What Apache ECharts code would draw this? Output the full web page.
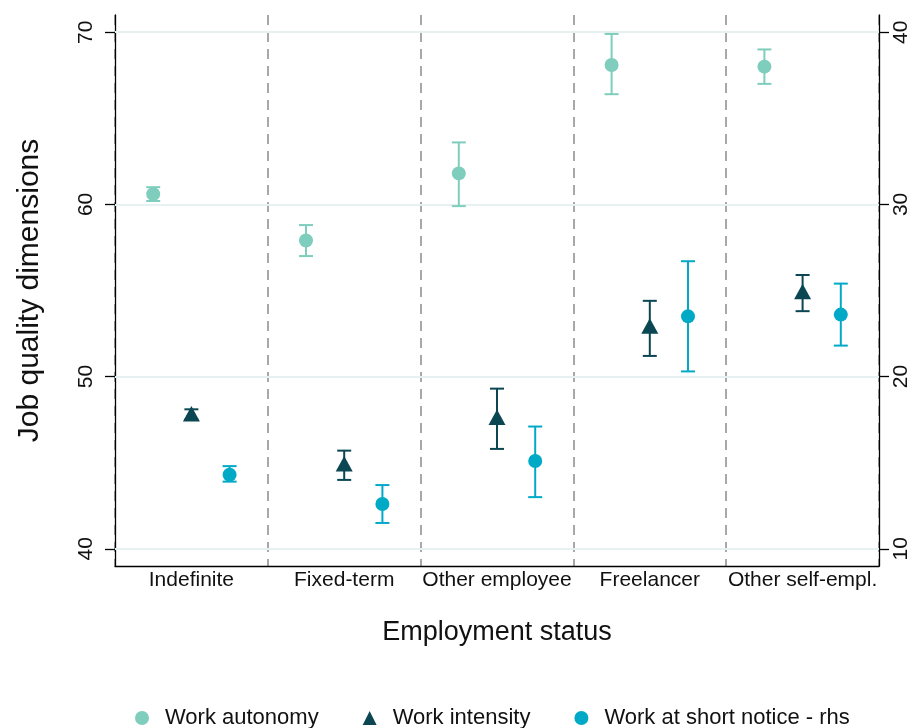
<!DOCTYPE html>
<html>
<head>
<meta charset="utf-8">
<script src="https://cdn.jsdelivr.net/npm/echarts@6/dist/echarts.min.js"></script>
<style>
html,body{margin:0;padding:0;background:#fff;}
#chart{width:913px;height:728px;}
</style>
</head>
<body>
<div id="chart"></div>
<script>
const categories = ['Indefinite', 'Fixed-term', 'Other employee', 'Freelancer', 'Other self-empl.'];
const seriesNames = ['Work autonomy', 'Work intensity', 'Work at short notice - rhs'];

const autonomy   = [60.6, 57.9, 61.8, 68.1, 68.0];
const autonomyLo = [60.2, 57.0, 59.9, 66.4, 67.0];
const autonomyHi = [61.0, 58.8, 63.6, 69.9, 69.0];

const intensity   = [47.8, 44.9, 47.6, 52.9, 54.9];
const intensityLo = [47.5, 44.0, 45.8, 51.2, 53.8];
const intensityHi = [48.1, 45.7, 49.3, 54.4, 55.9];

const notice   = [14.3, 12.6, 15.1, 23.5, 23.6];
const noticeLo = [13.9, 11.5, 13.0, 20.3, 21.8];
const noticeHi = [14.8, 13.7, 17.1, 26.7, 25.4];

const leftTicks  = [40, 50, 60, 70];
const rightTicks = [10, 20, 30, 40];

const C_AUT = '#7ecdbd';
const C_INT = '#0b4653';
const C_NOT = '#00aac7';
const FONT = 'Liberation Sans, Arial, sans-serif';

function rows(v, lo, hi) {
  return v.map((x, i) => [i, x, lo[i], hi[i]]);
}

function makeRender(off, shape, color) {
  return function (params, api) {
    const i = api.value(0);
    const c = api.coord([i, api.value(1)]);
    const l = api.coord([i, api.value(2)]);
    const h = api.coord([i, api.value(3)]);
    const bw = api.coord([1, api.value(1)])[0] - api.coord([0, api.value(1)])[0];
    const x = c[0] + bw * off;
    const cap = 7;
    const st = { stroke: color, lineWidth: 2 };
    const children = [
      { type: 'line', shape: { x1: x, y1: l[1], x2: x, y2: h[1] }, style: st },
      { type: 'line', shape: { x1: x - cap, y1: l[1], x2: x + cap, y2: l[1] }, style: st },
      { type: 'line', shape: { x1: x - cap, y1: h[1], x2: x + cap, y2: h[1] }, style: st }
    ];
    if (shape === 'triangle') {
      children.push({ type: 'polygon', shape: { points: [[x, c[1] - 8.5], [x + 8.5, c[1] + 7], [x - 8.5, c[1] + 7]] }, style: { fill: color } });
    } else {
      children.push({ type: 'circle', shape: { cx: x, cy: c[1], r: 7 }, style: { fill: color } });
    }
    return { type: 'group', children: children };
  };
}

const chart = echarts.init(document.getElementById('chart'), null, { renderer: 'canvas' });

const option = {
  animation: false,
  backgroundColor: '#ffffff',
  textStyle: { fontFamily: FONT },
  grid: { left: 115, right: 34, top: 15, bottom: 162, containLabel: false },
  legend: {
    left: 130,
    top: 702,
    itemWidth: 14,
    itemHeight: 14,
    itemGap: 44,
    textStyle: { fontFamily: FONT, fontSize: 22, color: '#111', padding: [0, 0, 0, 11] },
    data: [
      { name: seriesNames[0], icon: 'circle' },
      { name: seriesNames[1], icon: 'triangle' },
      { name: seriesNames[2], icon: 'circle' }
    ]
  },
  xAxis: {
    type: 'category',
    data: categories,
    boundaryGap: true,
    name: 'Employment status',
    nameLocation: 'middle',
    nameGap: 53,
    nameTextStyle: { fontFamily: FONT, fontSize: 27, color: '#111' },
    axisLine: { lineStyle: { color: '#000', width: 1.3 } },
    axisTick: { show: false },
    axisLabel: { fontFamily: FONT, fontSize: 21, color: '#111', margin: 4, interval: 0 },
    splitLine: { show: true, interval: 0, lineStyle: { color: '#8c8c8c', width: 1.5, type: [10, 7] } }
  },
  yAxis: [
    {
      type: 'value',
      min: 39, max: 71,
      position: 'left',
      name: 'Job quality dimensions',
      nameLocation: 'middle',
      nameGap: 70,
      nameTextStyle: { fontFamily: FONT, fontSize: 30, color: '#111' },
      axisLine: { show: true, lineStyle: { color: '#000', width: 1.3 } },
      axisTick: { show: true, length: 10, customValues: leftTicks, lineStyle: { color: '#000', width: 1.3 } },
      axisLabel: { customValues: leftTicks, rotate: 90, margin: 18, fontFamily: FONT, fontSize: 21, color: '#111' },
      splitLine: { show: false }
    },
    {
      type: 'value',
      min: 9, max: 41,
      position: 'right',
      axisLine: { show: true, lineStyle: { color: '#000', width: 1.3 } },
      axisTick: { show: true, length: 10, customValues: rightTicks, lineStyle: { color: '#000', width: 1.3 } },
      axisLabel: { customValues: rightTicks, rotate: 90, margin: 12, fontFamily: FONT, fontSize: 21, color: '#111' },
      splitLine: { show: false }
    }
  ],
  series: [
    {
      name: 'grid',
      type: 'line',
      data: [],
      yAxisIndex: 0,
      silent: true,
      z: 0,
      markLine: {
        silent: true,
        symbol: 'none',
        label: { show: false },
        lineStyle: { color: '#e8f1f2', width: 2, type: 'solid' },
        data: leftTicks.map(v => ({ yAxis: v }))
      }
    },
    {
      name: seriesNames[0], type: 'custom', yAxisIndex: 0, z: 5,
      itemStyle: { color: C_AUT },
      renderItem: makeRender(-0.25, 'circle', C_AUT),
      encode: { x: 0, y: [1, 2, 3] },
      data: rows(autonomy, autonomyLo, autonomyHi)
    },
    {
      name: seriesNames[1], type: 'custom', yAxisIndex: 0, z: 5,
      itemStyle: { color: C_INT },
      renderItem: makeRender(0, 'triangle', C_INT),
      encode: { x: 0, y: [1, 2, 3] },
      data: rows(intensity, intensityLo, intensityHi)
    },
    {
      name: seriesNames[2], type: 'custom', yAxisIndex: 1, z: 5,
      itemStyle: { color: C_NOT },
      renderItem: makeRender(0.25, 'circle', C_NOT),
      encode: { x: 0, y: [1, 2, 3] },
      data: rows(notice, noticeLo, noticeHi)
    }
  ]
};
chart.setOption(option);
</script>
</body>
</html>
